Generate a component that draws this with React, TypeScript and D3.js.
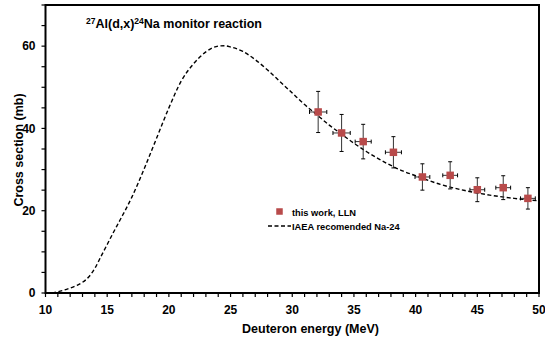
import React from "react";
import * as d3 from "d3";

const curveE = [10, 10.5, 11, 11.5, 12, 12.5, 13, 13.5, 14, 14.5, 15, 15.5, 16, 17, 18, 19, 20, 21, 22, 23, 24, 24.5, 25, 26, 27, 28, 29, 30, 31, 32, 33, 34, 35, 36, 37, 38, 39, 40, 42, 44, 46, 48, 50];
const curveS = [0, 0.05, 0.3, 0.7, 1.2, 1.8, 2.6, 3.9, 6.0, 8.9, 11.8, 14.7, 17.5, 23.3, 30.2, 37.6, 45, 51.5, 55.7, 58.6, 60, 60.1, 59.8, 58.7, 56.7, 54.2, 51.4, 48.6, 45.8, 43.3, 40.8, 38.6, 36.4, 34.4, 32.6, 31.0, 29.6, 28.5, 26.4, 24.9, 23.8, 23.0, 22.4];

const dataE = [32.1, 34.0, 35.75, 38.2, 40.55, 42.8, 45.0, 47.1, 49.1];
const dataS = [44.0, 38.9, 36.8, 34.2, 28.2, 28.6, 25.1, 25.6, 23.0];
const dataErrS = [5.0, 4.5, 4.2, 3.8, 3.2, 3.3, 2.9, 2.9, 2.6];
const dataErrE = [0.7, 0.7, 0.65, 0.65, 0.6, 0.6, 0.6, 0.6, 0.6];

const xTicks = [10, 15, 20, 25, 30, 35, 40, 45, 50];
const yTicks = [0, 20, 40, 60];

const W = 545, H = 337;
const L = 45.5, R = 539, T = 5, B = 293;
const FONT = "'Liberation Sans', Arial, sans-serif";
const RED = "#b84a4a";

export default function App() {
  const x = d3.scaleLinear().domain([10, 50]).range([L, R]);
  const y = d3.scaleLinear().domain([0, 70]).range([B, T]);
  const line = d3
    .line<number>()
    .x((_, i) => x(curveE[i]))
    .y((d) => y(d))
    .curve(d3.curveMonotoneX);
  const minorX = d3.range(10, 50.01, 1);
  const minorY = d3.range(0, 70.01, 5);

  return (
    <svg width={W} height={H} style={{ position: "absolute", left: 0, top: 0, background: "#fff" }} fontFamily={FONT}>
      <rect x={0} y={0} width={W} height={H} fill="#fff" />
      {/* curve */}
      <path d={line(curveS) || ""} fill="none" stroke="#000" strokeWidth={1.4} strokeDasharray="4,2.5" />
      {/* error bars and markers */}
      {dataE.map((e, i) => {
        const cx = x(e), cy = y(dataS[i]);
        const y1 = y(dataS[i] + dataErrS[i]), y2 = y(dataS[i] - dataErrS[i]);
        const x1 = x(e - dataErrE[i]), x2 = x(e + dataErrE[i]);
        return (
          <g key={i}>
            <line x1={cx} x2={cx} y1={y1} y2={y2} stroke="#333" strokeWidth={1} />
            <line x1={cx - 2} x2={cx + 2} y1={y1} y2={y1} stroke="#000" strokeWidth={1} />
            <line x1={cx - 2} x2={cx + 2} y1={y2} y2={y2} stroke="#000" strokeWidth={1} />
            <line x1={x1} x2={x2} y1={cy} y2={cy} stroke="#333" strokeWidth={1} />
            <line x1={x1} x2={x1} y1={cy - 2} y2={cy + 2} stroke="#000" strokeWidth={1} />
            <line x1={x2} x2={x2} y1={cy - 2} y2={cy + 2} stroke="#000" strokeWidth={1} />
            <rect x={cx - 3.75} y={cy - 3.75} width={7.5} height={7.5} fill={RED} />
          </g>
        );
      })}
      {/* frame */}
      <rect x={L} y={T} width={R - L} height={B - T} fill="none" stroke="#000" strokeWidth={2} />
      {/* x ticks */}
      {minorX.map((v) => (
        <line key={"xt" + v} x1={x(v)} x2={x(v)} y1={B} y2={B + 4} stroke="#000" strokeWidth={1.2} />
      ))}
      {xTicks.map((v) => (
        <text key={"xl" + v} x={x(v)} y={314} textAnchor="middle" fontSize={12} fontWeight="bold">{v}</text>
      ))}
      {/* y ticks */}
      {minorY.map((v) => (
        <line key={"yt" + v} x1={L - 4} x2={L} y1={y(v)} y2={y(v)} stroke="#000" strokeWidth={1.2} />
      ))}
      {yTicks.map((v) => (
        <text key={"yl" + v} x={35.5} y={y(v) + 4.3} textAnchor="end" fontSize={12} fontWeight="bold">{v}</text>
      ))}
      {/* axis titles */}
      <text x={310.5} y={333} textAnchor="middle" fontSize={12.5} fontWeight="bold">Deuteron energy (MeV)</text>
      <text transform={`translate(22.5,150) rotate(-90)`} textAnchor="middle" fontSize={12.5} fontWeight="bold">Cross section (mb)</text>
      {/* title */}
      <text x={86} y={28} fontSize={12.5} fontWeight="bold">
        <tspan fontSize={8.5} dy={-4}>27</tspan>
        <tspan dy={4}>Al(d,x)</tspan>
        <tspan fontSize={8.5} dy={-4}>24</tspan>
        <tspan dy={4}>Na monitor reaction</tspan>
      </text>
      {/* legend */}
      <rect x={276.25} y={208.25} width={6.5} height={6.5} fill={RED} />
      <text x={292} y={215.5} fontSize={9.3} fontWeight="bold">this work, LLN</text>
      <line x1={268} x2={291} y1={226} y2={226} stroke="#000" strokeWidth={1.4} strokeDasharray="4,2.5" />
      <text x={292} y={229.5} fontSize={9.3} fontWeight="bold">IAEA recomended Na-24</text>
    </svg>
  );
}
